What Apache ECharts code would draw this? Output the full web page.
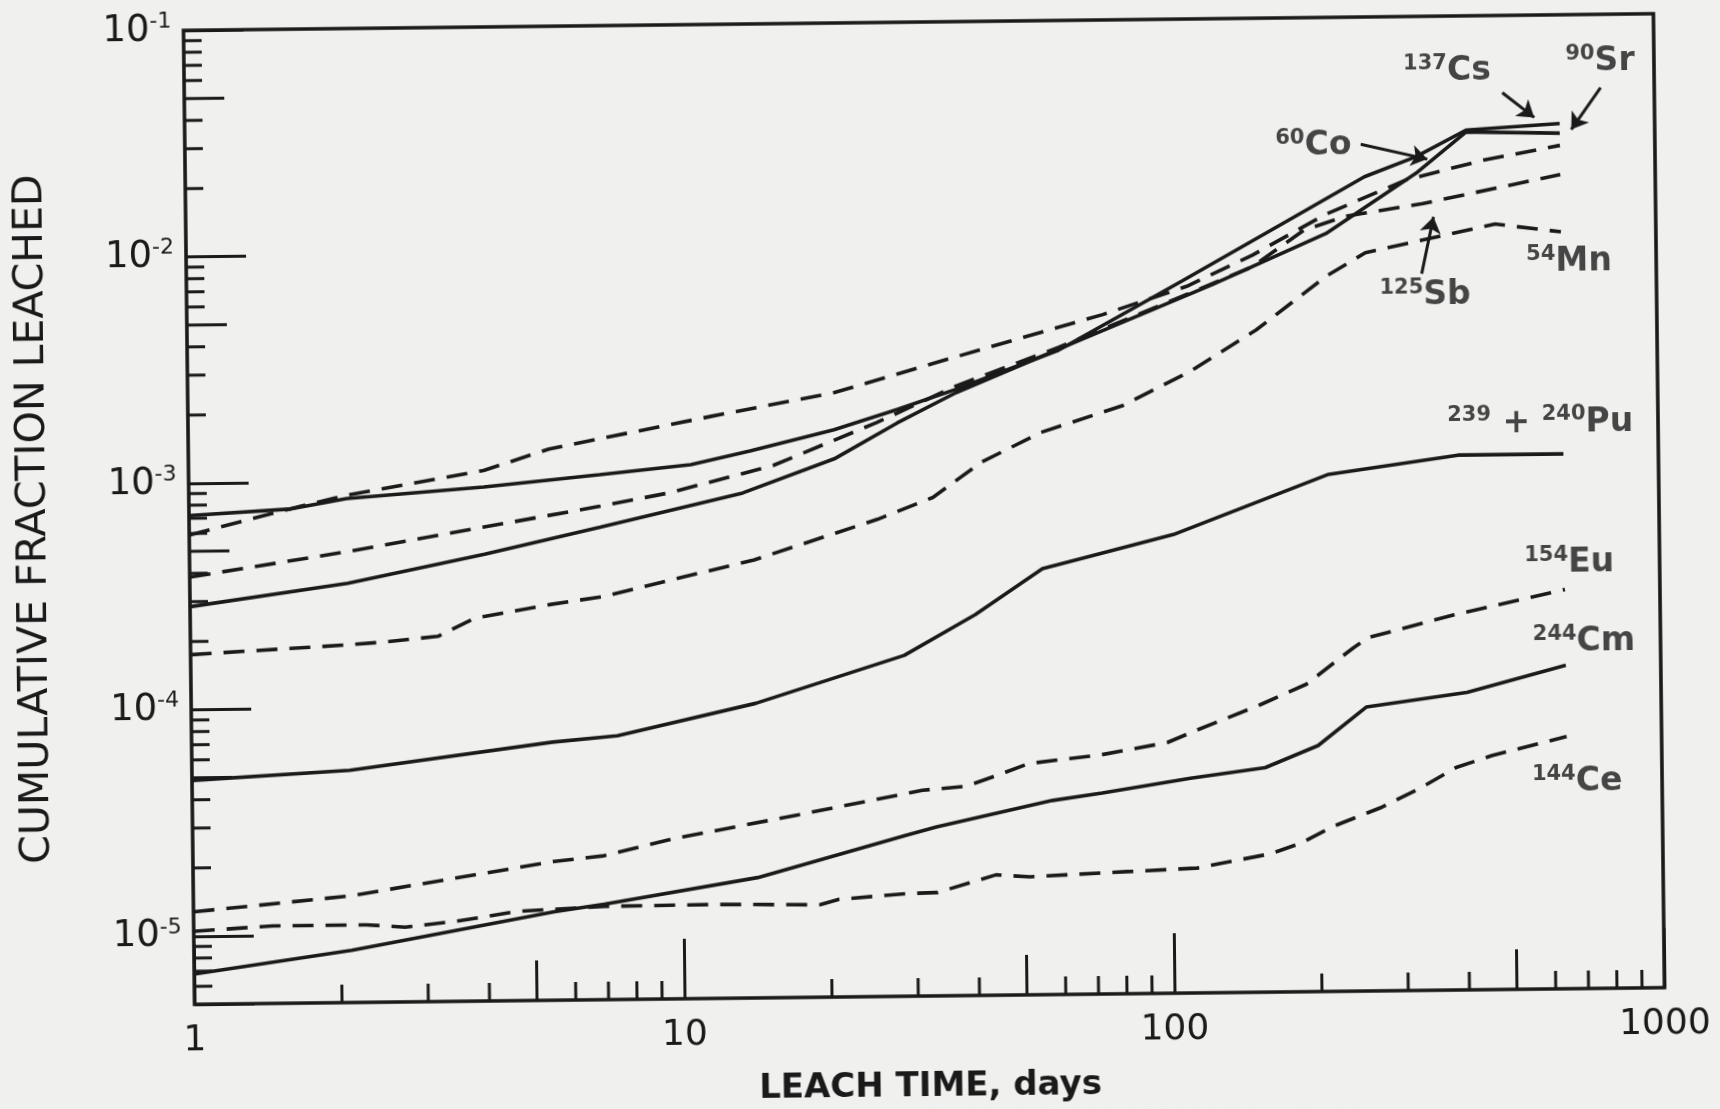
<!DOCTYPE html>
<html>
<head>
<meta charset="utf-8">
<script src="https://cdn.jsdelivr.net/npm/echarts@6/dist/echarts.min.js"></script>
<style>
html,body{margin:0;padding:0;background:#f0f0ee;overflow:hidden;width:1720px;height:1109px}
#chart{position:absolute;left:0;top:0;width:1720px;height:1109px;transform:rotate(-0.65deg);transform-origin:925.5px 511px}
</style>
</head>
<body>
<div id="chart"></div>
<script>
// ---------- data ----------
const cs137Days  = [1, 1.6, 2.1, 4, 6.9, 10.6, 14, 20.8, 28, 37, 60, 108, 176, 255, 325, 412, 640];
const cs137Frac  = [7.2e-4, 7.6e-4, 8.4e-4, 9.3e-4, 1.04e-3, 1.14e-3, 1.3e-3, 1.6e-3, 1.95e-3, 2.38e-3, 3.5e-3, 7.0e-3, 0.0126, 0.0197, 0.024, 0.0313, 0.0331];

const sr90Days   = [1, 2.1, 4, 6.9, 13.5, 20.8, 28, 37, 67, 124, 212, 325, 412, 640];
const sr90Frac   = [2.85e-4, 3.55e-4, 4.7e-4, 6.1e-4, 8.5e-4, 1.19e-3, 1.7e-3, 2.3e-3, 3.9e-3, 6.7e-3, 0.0111, 0.0203, 0.0307, 0.030];

const co60Days   = [1, 1.6, 2.1, 4, 5.45, 11.7, 20.8, 37.4, 74, 110, 150, 212, 310, 446, 640];
const co60Frac   = [5.9e-4, 7.6e-4, 8.7e-4, 1.1e-3, 1.36e-3, 1.86e-3, 2.33e-3, 3.33e-3, 5.0e-3, 6.6e-3, 9.0e-3, 0.0135, 0.019, 0.023, 0.0265];

const sb125Days  = [1, 2.1, 6.9, 9.6, 15.6, 25.4, 37, 60, 100, 150, 191, 232, 335, 640];
const sb125Frac  = [3.85e-4, 4.9e-4, 7.55e-4, 8.6e-4, 1.12e-3, 1.71e-3, 2.46e-3, 3.6e-3, 5.6e-3, 8.0e-3, 0.0115, 0.0132, 0.0149, 0.0197];

const mn54Days   = [1, 2.1, 2.5, 3.2, 3.8, 5.45, 6.9, 14.2, 25.4, 33, 41.5, 55, 81, 112, 152, 212, 255, 335, 470, 640];
const mn54Frac   = [1.75e-4, 1.9e-4, 1.95e-4, 2.05e-4, 2.45e-4, 2.8e-4, 3.0e-4, 4.3e-4, 6.4e-4, 7.95e-4, 1.13e-3, 1.52e-3, 1.98e-3, 2.8e-3, 4.2e-3, 7.2e-3, 9.1e-3, 0.0103, 0.012, 0.011];

const pu239Days  = [1, 2.1, 5.45, 7.4, 14.2, 28.6, 40, 55, 72, 102, 212, 390, 640];
const pu239Frac  = [4.87e-5, 5.3e-5, 6.9e-5, 7.3e-5, 1.0e-4, 1.6e-4, 2.4e-4, 3.8e-4, 4.4e-4, 5.3e-4, 9.6e-4, 1.15e-3, 1.15e-3];

const eu154Days  = [1, 2.1, 5.45, 6.9, 9.6, 17.2, 30.9, 38, 45, 51, 72, 98, 112, 152, 189, 236, 254, 380, 640];
const eu154Frac  = [1.28e-5, 1.48e-5, 2.05e-5, 2.16e-5, 2.55e-5, 3.2e-5, 4.05e-5, 4.2e-5, 4.76e-5, 5.25e-5, 5.7e-5, 6.4e-5, 7.2e-5, 9.3e-5, 1.14e-4, 1.64e-4, 1.82e-4, 2.27e-4, 2.9e-4];

const cm244Days  = [1, 2.1, 5.45, 6.9, 14.2, 28.6, 33, 57, 72, 109, 155, 199, 250, 402, 640];
const cm244Frac  = [6.8e-6, 8.5e-6, 1.23e-5, 1.32e-5, 1.7e-5, 2.57e-5, 2.79e-5, 3.6e-5, 3.86e-5, 4.44e-5, 4.9e-5, 6.1e-5, 8.97e-5, 1.03e-4, 1.34e-4];

const ce144Days  = [1, 1.45, 2.25, 2.7, 3.45, 4.6, 6.9, 11.7, 19, 20.8, 28.6, 33, 43.5, 51, 80.6, 112, 158, 182, 212, 268, 320, 380, 450, 640];
const ce144Frac  = [1.05e-5, 1.1e-5, 1.1e-5, 1.07e-5, 1.13e-5, 1.24e-5, 1.29e-5, 1.3e-5, 1.28e-5, 1.35e-5, 1.42e-5, 1.43e-5, 1.7e-5, 1.66e-5, 1.73e-5, 1.78e-5, 2.04e-5, 2.26e-5, 2.67e-5, 3.24e-5, 3.9e-5, 4.8e-5, 5.4e-5, 6.5e-5];

// curve labels (mass number, element) and their anchor points in data space
const labelMass    = ['137', '90', '60', '125', '54', '239 + 240', '154', '244', '144'];
const labelElement = ['Cs', 'Sr', 'Co', 'Sb', 'Mn', 'Pu', 'Eu', 'Cm', 'Ce'];
const labelDays    = [378, 776, 201, 337, 664, 575, 654, 698, 671];
const labelFracs   = [0.0568, 0.0617, 0.027, 5.85e-3, 8.1e-3, 1.58e-3, 3.78e-4, 1.70e-4, 4.08e-5];

// pointer arrows (from -> to) in data space
const arrowFromDays  = [489.5, 777, 251, 332];
const arrowFromFracs = [0.0456, 0.0474, 0.0274, 7.3e-3];
const arrowToDays    = [568, 675.5, 343, 352];
const arrowToFracs   = [0.0353, 0.0311, 0.0234, 0.0130];

// axes
const X_MIN = 1, X_MAX = 1000;
const Y_MIN = 5e-6, Y_MAX = 0.1;
const xMinorTicks = [2,3,4,5,6,7,8,9, 20,30,40,50,60,70,80,90, 200,300,400,500,600,700,800,900];
const yMinorTicks = [6e-6,7e-6,8e-6,9e-6,
  2e-5,3e-5,4e-5,5e-5,6e-5,7e-5,8e-5,9e-5,
  2e-4,3e-4,4e-4,5e-4,6e-4,7e-4,8e-4,9e-4,
  2e-3,3e-3,4e-3,5e-3,6e-3,7e-3,8e-3,9e-3,
  2e-2,3e-2,4e-2,5e-2,6e-2,7e-2,8e-2,9e-2];

// ---------- chart ----------
const INK = '#1a1a1a';
const FONT = "'DejaVu Sans', 'Liberation Sans', sans-serif";
const zip = (a, b) => a.map((v, i) => [v, b[i]]);

function isPow10(v) {
  const l = Math.log10(v);
  return Math.abs(l - Math.round(l)) < 1e-6;
}
function minorLen(v) {
  const m = v / Math.pow(10, Math.floor(Math.log10(v) + 1e-9));
  return Math.abs(m - 5) < 1e-6 ? 40 : 18;
}

const solid = { color: INK, width: 3.6, type: 'solid' };
const dashed = { color: INK, width: 3.6, type: [21, 12] };

function lineSeries(name, days, frac, style) {
  return {
    name, type: 'line', data: zip(days, frac), showSymbol: false, symbol: 'none',
    lineStyle: style, itemStyle: { color: INK }, smooth: false, clip: true, z: 4,
    emphasis: { disabled: true }
  };
}

const labelRich = {
  sup: { fontSize: 21, lineHeight: 21, verticalAlign: 'top', fontFamily: FONT, fontWeight: 'bold', color: INK },
  main: { fontSize: 33, lineHeight: 37, fontFamily: FONT, fontWeight: 'bold', color: INK }
};

const chart = echarts.init(document.getElementById('chart'), null, { renderer: 'canvas' });
chart.setOption({
  backgroundColor: '#f0f0ee',
  animation: false,
  grid: { left: 189, top: 22, width: 1470, height: 979, show: true, borderColor: INK, borderWidth: 3.6, backgroundColor: 'transparent' },
  xAxis: {
    type: 'log', logBase: 10, min: X_MIN, max: X_MAX, position: 'bottom',
    name: 'LEACH TIME, days', nameLocation: 'middle', nameGap: 74,
    nameTextStyle: { fontFamily: FONT, fontSize: 34, fontWeight: 'bold', color: INK },
    axisLine: { show: false },
    axisTick: { show: true, inside: true, length: 60, lineStyle: { color: INK, width: 3 } },
    axisLabel: { margin: 19, fontFamily: FONT, fontSize: 36, color: INK,
      formatter: v => isPow10(v) ? String(Math.round(v)) : '' },
    splitLine: { show: false }, minorTick: { show: false }, minorSplitLine: { show: false }
  },
  yAxis: {
    type: 'log', logBase: 10, min: Y_MIN, max: Y_MAX, position: 'left',
    name: 'CUMULATIVE FRACTION LEACHED', nameLocation: 'middle', nameGap: 134,
    nameTextStyle: { fontFamily: FONT, fontSize: 41, color: INK },
    axisLine: { show: false },
    axisTick: { show: true, inside: true, length: 60, lineStyle: { color: INK, width: 3 } },
    axisLabel: { margin: 12, color: INK,
      formatter: v => isPow10(v) ? '{b|10}{e|' + Math.round(Math.log10(v)) + '}' : '',
      rich: {
        b: { fontFamily: FONT, fontSize: 37, lineHeight: 40, color: INK },
        e: { fontFamily: FONT, fontSize: 22, lineHeight: 22, verticalAlign: 'top', color: INK }
      } },
    splitLine: { show: false }, minorTick: { show: false }, minorSplitLine: { show: false }
  },
  series: [
    lineSeries('137Cs', cs137Days, cs137Frac, solid),
    lineSeries('90Sr', sr90Days, sr90Frac, solid),
    lineSeries('60Co', co60Days, co60Frac, dashed),
    lineSeries('125Sb', sb125Days, sb125Frac, dashed),
    lineSeries('54Mn', mn54Days, mn54Frac, dashed),
    lineSeries('239+240Pu', pu239Days, pu239Frac, solid),
    lineSeries('154Eu', eu154Days, eu154Frac, dashed),
    lineSeries('244Cm', cm244Days, cm244Frac, solid),
    lineSeries('144Ce', ce144Days, ce144Frac, dashed),
    {
      name: 'xMinorTicks', type: 'custom', coordinateSystem: 'cartesian2d', silent: true, z: 3,
      data: xMinorTicks.map(v => [v, Y_MIN]),
      renderItem: (p, api) => {
        const c = api.coord([api.value(0), api.value(1)]);
        const L = minorLen(api.value(0));
        return { type: 'line', shape: { x1: c[0], y1: c[1], x2: c[0], y2: c[1] - L }, style: { stroke: INK, lineWidth: 3 } };
      }
    },
    {
      name: 'yMinorTicks', type: 'custom', coordinateSystem: 'cartesian2d', silent: true, z: 3,
      data: yMinorTicks.map(v => [X_MIN, v]),
      renderItem: (p, api) => {
        const c = api.coord([api.value(0), api.value(1)]);
        const L = minorLen(api.value(1));
        return { type: 'line', shape: { x1: c[0], y1: c[1], x2: c[0] + L, y2: c[1] }, style: { stroke: INK, lineWidth: 3 } };
      }
    },
    {
      name: 'labels', type: 'scatter', silent: true, symbolSize: 0, z: 6,
      data: labelDays.map((d, i) => ({
        value: [d, labelFracs[i]],
        label: {
          show: true, position: 'inside',
          formatter: labelMass[i].indexOf('+') >= 0
            ? '{sup|' + labelMass[i].split(' + ')[0] + '}{main| + }{sup|' + labelMass[i].split(' + ')[1] + '}{main|' + labelElement[i] + '}'
            : '{sup|' + labelMass[i] + '}{main|' + labelElement[i] + '}',
          rich: labelRich
        }
      }))
    },
    {
      name: 'arrows', type: 'lines', coordinateSystem: 'cartesian2d', silent: true, z: 6,
      symbol: ['none', 'arrow'], symbolSize: 16,
      lineStyle: { color: INK, width: 3, opacity: 1, curveness: 0 },
      data: arrowFromDays.map((d, i) => ({ coords: [[d, arrowFromFracs[i]], [arrowToDays[i], arrowToFracs[i]]] }))
    }
  ]
});
</script>
</body>
</html>
